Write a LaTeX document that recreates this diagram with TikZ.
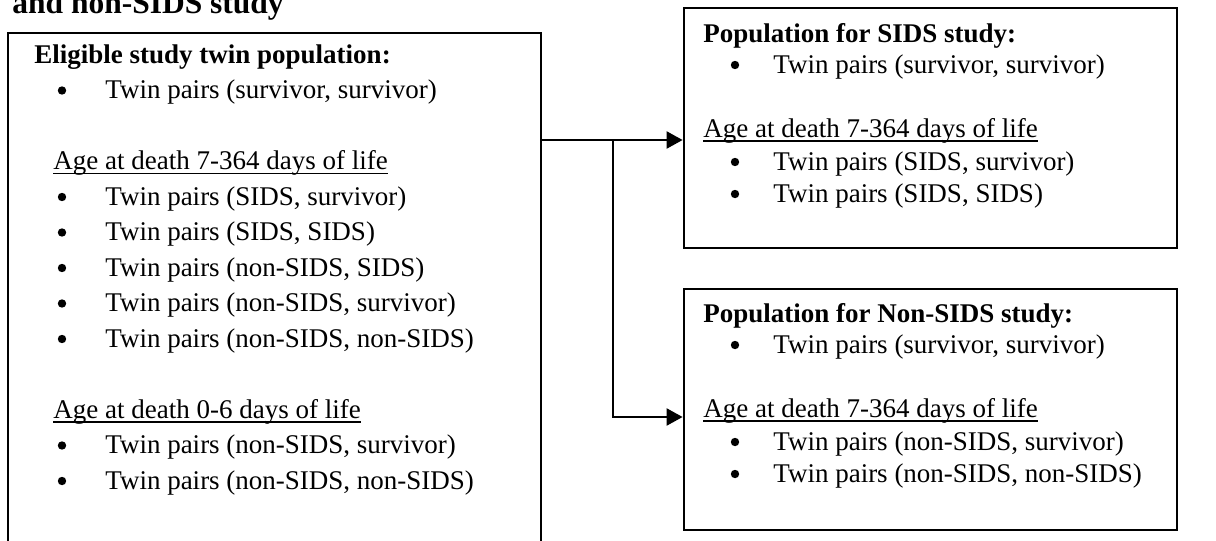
\documentclass[tikz,border=0pt]{standalone}
\usepackage{fontspec}
\setmainfont{Liberation Serif}
\usetikzlibrary{arrows.meta,fit}
\begin{document}
\begin{tikzpicture}[x=0.5pt,y=-0.5pt,
  txt/.style={anchor=base west, inner sep=0pt, font=\fontsize{13.5}{15}\selectfont},
  hd/.style={anchor=base west, inner sep=0pt, font=\fontsize{13.5}{15}\selectfont\bfseries},
  ttl/.style={anchor=base west, inner sep=0pt, font=\fontsize{15.75}{17}\selectfont\bfseries},
  bul/.style={circle, fill, inner sep=0pt, minimum size=4.2pt},
  boxst/.style={draw, line width=1.4pt, inner sep=0pt},
  uline/.style={line width=0.7pt},
  conn/.style={line width=1.15pt, -{Triangle[length=8pt,width=8.5pt]}}]
\useasboundingbox (0,0) rectangle (1216,541);
% title (cut at top)
\node[ttl] (title) at (12,13) {and non-SIDS study};
% boxes
\coordinate (Ltl) at (8,33); \coordinate (Lbr) at (541,590);
\node[boxst, fit=(Ltl)(Lbr)] (L) {};
\coordinate (R1tl) at (684,8); \coordinate (R1br) at (1177,248);
\node[boxst, fit=(R1tl)(R1br)] (R1) {};
\coordinate (R2tl) at (684,289); \coordinate (R2br) at (1177,530);
\node[boxst, fit=(R2tl)(R2br)] (R2) {};
% left box text
\node[hd]  (l0) at (34,63) {Eligible study twin population:};
\node[bul] (lb1) at (62,90.5) {};  \node[txt] (l1) at (105,98.5) {Twin pairs (survivor, survivor)};
\node[txt] (l2) at (53,169.5) {Age at death 7-364 days of life};
\node[bul] (lb3) at (62,197) {};   \node[txt] (l3) at (105,205) {Twin pairs (SIDS, survivor)};
\node[bul] (lb4) at (62,232.5) {}; \node[txt] (l4) at (105,240.5) {Twin pairs (SIDS, SIDS)};
\node[bul] (lb5) at (62,268) {};   \node[txt] (l5) at (105,276) {Twin pairs (non-SIDS, SIDS)};
\node[bul] (lb6) at (62,303.5) {}; \node[txt] (l6) at (105,311.5) {Twin pairs (non-SIDS, survivor)};
\node[bul] (lb7) at (62,339) {};   \node[txt] (l7) at (105,347) {Twin pairs (non-SIDS, non-SIDS)};
\node[txt] (l8) at (53,418) {Age at death 0-6 days of life};
\node[bul] (lb9) at (62,445.5) {}; \node[txt] (l9) at (105,453.5) {Twin pairs (non-SIDS, survivor)};
\node[bul] (lb10) at (62,481) {};  \node[txt] (l10) at (105,489) {Twin pairs (non-SIDS, non-SIDS)};
\draw[uline] ([yshift=-2pt]l2.base west) -- ([yshift=-2pt]l2.base east);
\draw[uline] ([yshift=-2pt]l8.base west) -- ([yshift=-2pt]l8.base east);
% right box 1 text
\node[hd]  (a0) at (703,42) {Population for SIDS study:};
\node[bul] (ab1) at (735,65) {};  \node[txt] (a1) at (773,73) {Twin pairs (survivor, survivor)};
\node[txt] (a2) at (703,137) {Age at death 7-364 days of life};
\node[bul] (ab3) at (735,162) {}; \node[txt] (a3) at (773,170) {Twin pairs (SIDS, survivor)};
\node[bul] (ab4) at (735,194) {}; \node[txt] (a4) at (773,202) {Twin pairs (SIDS, SIDS)};
\draw[uline] ([yshift=-2pt]a2.base west) -- ([yshift=-2pt]a2.base east);
% right box 2 text
\node[hd]  (b0) at (703,322) {Population for Non-SIDS study:};
\node[bul] (bb1) at (735,345) {}; \node[txt] (b1) at (773,353) {Twin pairs (survivor, survivor)};
\node[txt] (b2) at (703,417) {Age at death 7-364 days of life};
\node[bul] (bb3) at (735,442) {}; \node[txt] (b3) at (773,450) {Twin pairs (non-SIDS, survivor)};
\node[bul] (bb4) at (735,474) {}; \node[txt] (b4) at (773,482) {Twin pairs (non-SIDS, non-SIDS)};
\draw[uline] ([yshift=-2pt]b2.base west) -- ([yshift=-2pt]b2.base east);
% connectors
\coordinate (A1) at (0,140);
\coordinate (A2) at (0,417);
\coordinate (B) at (613,140);
\draw[conn] (L.east |- A1) -- (R1.west |- A1);
\draw[conn] (B) |- (R2.west |- A2);
\end{tikzpicture}
\end{document}
